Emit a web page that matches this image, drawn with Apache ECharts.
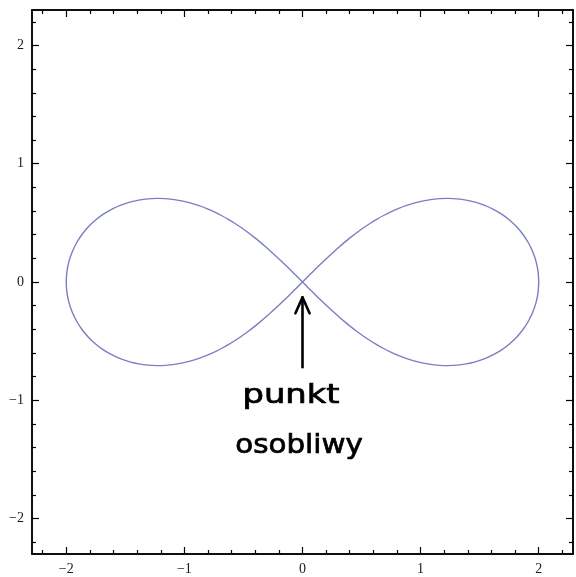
<!DOCTYPE html>
<html>
<head>
<meta charset="utf-8">
<script src="https://cdn.jsdelivr.net/npm/echarts@6/dist/echarts.min.js"></script>
<style>
  html, body { margin: 0; padding: 0; background: #fff; }
  #chart { width: 576px; height: 577px; }
</style>
</head>
<body>
<div id="chart"></div>
<script>
// Lemniscate curve, traced point by point around the whole figure-eight
const curveX = [
  // right lobe, upper half (from the right tip to the crossing)
  2, 1.9943, 1.9774, 1.9497, 1.9120, 1.8652, 1.8106, 1.7493, 1.6826, 1.6117, 1.5379, 1.4623, 1.3856, 1.3089, 1.2327, 1.1577, 1.0841, 1.0124,
  0.9428, 0.8754, 0.8102, 0.7472, 0.6865, 0.6279, 0.5714, 0.5168, 0.4641, 0.4129, 0.3633, 0.3149, 0.2678, 0.2216, 0.1763, 0.1316, 0.0875, 0.0437, 0,
  // left lobe, lower half
  -0.0437, -0.0875, -0.1316, -0.1763, -0.2216, -0.2678, -0.3149, -0.3633, -0.4129, -0.4641, -0.5168, -0.5714, -0.6279, -0.6865, -0.7472, -0.8102, -0.8754, -0.9428,
  -1.0124, -1.0841, -1.1577, -1.2327, -1.3089, -1.3856, -1.4623, -1.5379, -1.6117, -1.6826, -1.7493, -1.8106, -1.8652, -1.9120, -1.9497, -1.9774, -1.9943, -2,
  // left lobe, upper half
  -1.9943, -1.9774, -1.9497, -1.9120, -1.8652, -1.8106, -1.7493, -1.6826, -1.6117, -1.5379, -1.4623, -1.3856, -1.3089, -1.2327, -1.1577, -1.0841, -1.0124,
  -0.9428, -0.8754, -0.8102, -0.7472, -0.6865, -0.6279, -0.5714, -0.5168, -0.4641, -0.4129, -0.3633, -0.3149, -0.2678, -0.2216, -0.1763, -0.1316, -0.0875, -0.0437, 0,
  // right lobe, lower half
  0.0437, 0.0875, 0.1316, 0.1763, 0.2216, 0.2678, 0.3149, 0.3633, 0.4129, 0.4641, 0.5168, 0.5714, 0.6279, 0.6865, 0.7472, 0.8102, 0.8754, 0.9428,
  1.0124, 1.0841, 1.1577, 1.2327, 1.3089, 1.3856, 1.4623, 1.5379, 1.6117, 1.6826, 1.7493, 1.8106, 1.8652, 1.9120, 1.9497, 1.9774, 1.9943, 2
];
const curveY = [
  0, 0.0870, 0.1723, 0.2545, 0.3320, 0.4037, 0.4686, 0.5260, 0.5755, 0.6168, 0.6500, 0.6752, 0.6928, 0.7033, 0.7071, 0.7047, 0.6969, 0.6840,
  0.6667, 0.6454, 0.6206, 0.5928, 0.5623, 0.5296, 0.4949, 0.4584, 0.4206, 0.3815, 0.3414, 0.3004, 0.2587, 0.2164, 0.1736, 0.1305, 0.0872, 0.0436, 0,
  -0.0436, -0.0872, -0.1305, -0.1736, -0.2164, -0.2587, -0.3004, -0.3414, -0.3815, -0.4206, -0.4584, -0.4949, -0.5296, -0.5623, -0.5928, -0.6206, -0.6454, -0.6667,
  -0.6840, -0.6969, -0.7047, -0.7071, -0.7033, -0.6928, -0.6752, -0.6500, -0.6168, -0.5755, -0.5260, -0.4686, -0.4037, -0.3320, -0.2545, -0.1723, -0.0870, 0,
  0.0870, 0.1723, 0.2545, 0.3320, 0.4037, 0.4686, 0.5260, 0.5755, 0.6168, 0.6500, 0.6752, 0.6928, 0.7033, 0.7071, 0.7047, 0.6969, 0.6840,
  0.6667, 0.6454, 0.6206, 0.5928, 0.5623, 0.5296, 0.4949, 0.4584, 0.4206, 0.3815, 0.3414, 0.3004, 0.2587, 0.2164, 0.1736, 0.1305, 0.0872, 0.0436, 0,
  -0.0436, -0.0872, -0.1305, -0.1736, -0.2164, -0.2587, -0.3004, -0.3414, -0.3815, -0.4206, -0.4584, -0.4949, -0.5296, -0.5623, -0.5928, -0.6206, -0.6454, -0.6667,
  -0.6840, -0.6969, -0.7047, -0.7071, -0.7033, -0.6928, -0.6752, -0.6500, -0.6168, -0.5755, -0.5260, -0.4686, -0.4037, -0.3320, -0.2545, -0.1723, -0.0870, 0
];

// Axis ticks
const majorTicks = [-2, -1, 0, 1, 2];
const minorTicks = [-2.2, -1.8, -1.6, -1.4, -1.2, -0.8, -0.6, -0.4, -0.2,
                    0.2, 0.4, 0.6, 0.8, 1.2, 1.4, 1.6, 1.8, 2.2];

// Arrow pointing at the singular point
const arrowShaftX = [0, 0];
const arrowShaftY = [-0.72, -0.13];
const arrowHeadX = [-0.06, 0, 0.06];
const arrowHeadY = [-0.265, -0.13, -0.265];

const annotationLines = ['punkt', 'osobliwy'];

const X_MIN = -2.29, X_MAX = 2.29, Y_MIN = -2.3, Y_MAX = 2.3;

const pairs = (xs, ys) => xs.map((x, i) => [x, ys[i]]);
const fmt = v => (v < 0 ? '\u2212' + Math.abs(v) : String(v));

const frameLine = { show: true, onZero: false, lineStyle: { color: '#000', width: 1.5 } };
const labelFont = { fontFamily: '"Liberation Serif", serif', fontSize: 14, color: '#1a1a1a' };

function makeAxis(kind, position, ticks, len, withLabels) {
  return {
    type: 'value',
    position: position,
    min: kind === 'x' ? X_MIN : Y_MIN,
    max: kind === 'x' ? X_MAX : Y_MAX,
    axisLine: frameLine,
    splitLine: { show: false },
    axisTick: {
      show: true, inside: true, length: len,
      customValues: ticks,
      lineStyle: { color: '#000', width: 1.2 }
    },
    axisLabel: withLabels
      ? Object.assign({ show: true, margin: 8, customValues: ticks, formatter: fmt }, labelFont)
      : { show: false }
  };
}

const chart = echarts.init(document.getElementById('chart'), null, { renderer: 'canvas' });

const handFont = '26px "DejaVu Sans"';

chart.setOption({
  animation: false,
  backgroundColor: '#fff',
  grid: { left: 32, right: 3, top: 10, bottom: 23, containLabel: false },
  xAxis: [
    makeAxis('x', 'bottom', majorTicks, 7, true),
    makeAxis('x', 'bottom', minorTicks, 4, false),
    makeAxis('x', 'top', majorTicks, 7, false),
    makeAxis('x', 'top', minorTicks, 4, false)
  ],
  yAxis: [
    makeAxis('y', 'left', majorTicks, 7, true),
    makeAxis('y', 'left', minorTicks, 4, false),
    makeAxis('y', 'right', majorTicks, 7, false),
    makeAxis('y', 'right', minorTicks, 4, false)
  ],
  series: [
    {
      type: 'line',
      data: pairs(curveX, curveY),
      smooth: 0.3,
      showSymbol: false,
      lineStyle: { color: '#7a7ec2', width: 1.4 }
    },
    {
      type: 'line',
      data: pairs(arrowShaftX, arrowShaftY),
      showSymbol: false,
      lineStyle: { color: '#000', width: 2.6, cap: 'round' }
    },
    {
      type: 'line',
      data: pairs(arrowHeadX, arrowHeadY),
      showSymbol: false,
      lineStyle: { color: '#000', width: 2.6, cap: 'round', join: 'round' }
    }
  ],
  graphic: [
    {
      type: 'text',
      x: 291, y: 396,
      scaleX: 1.3,
      style: {
        text: annotationLines[0],
        font: handFont,
        fill: '#000', stroke: '#000', lineWidth: 0.7,
        align: 'center',
        verticalAlign: 'middle'
      }
    },
    {
      type: 'text',
      x: 299, y: 446,
      scaleX: 1.13,
      style: {
        text: annotationLines[1],
        font: handFont,
        fill: '#000', stroke: '#000', lineWidth: 0.7,
        align: 'center',
        verticalAlign: 'middle'
      }
    }
  ]
});
</script>
</body>
</html>
